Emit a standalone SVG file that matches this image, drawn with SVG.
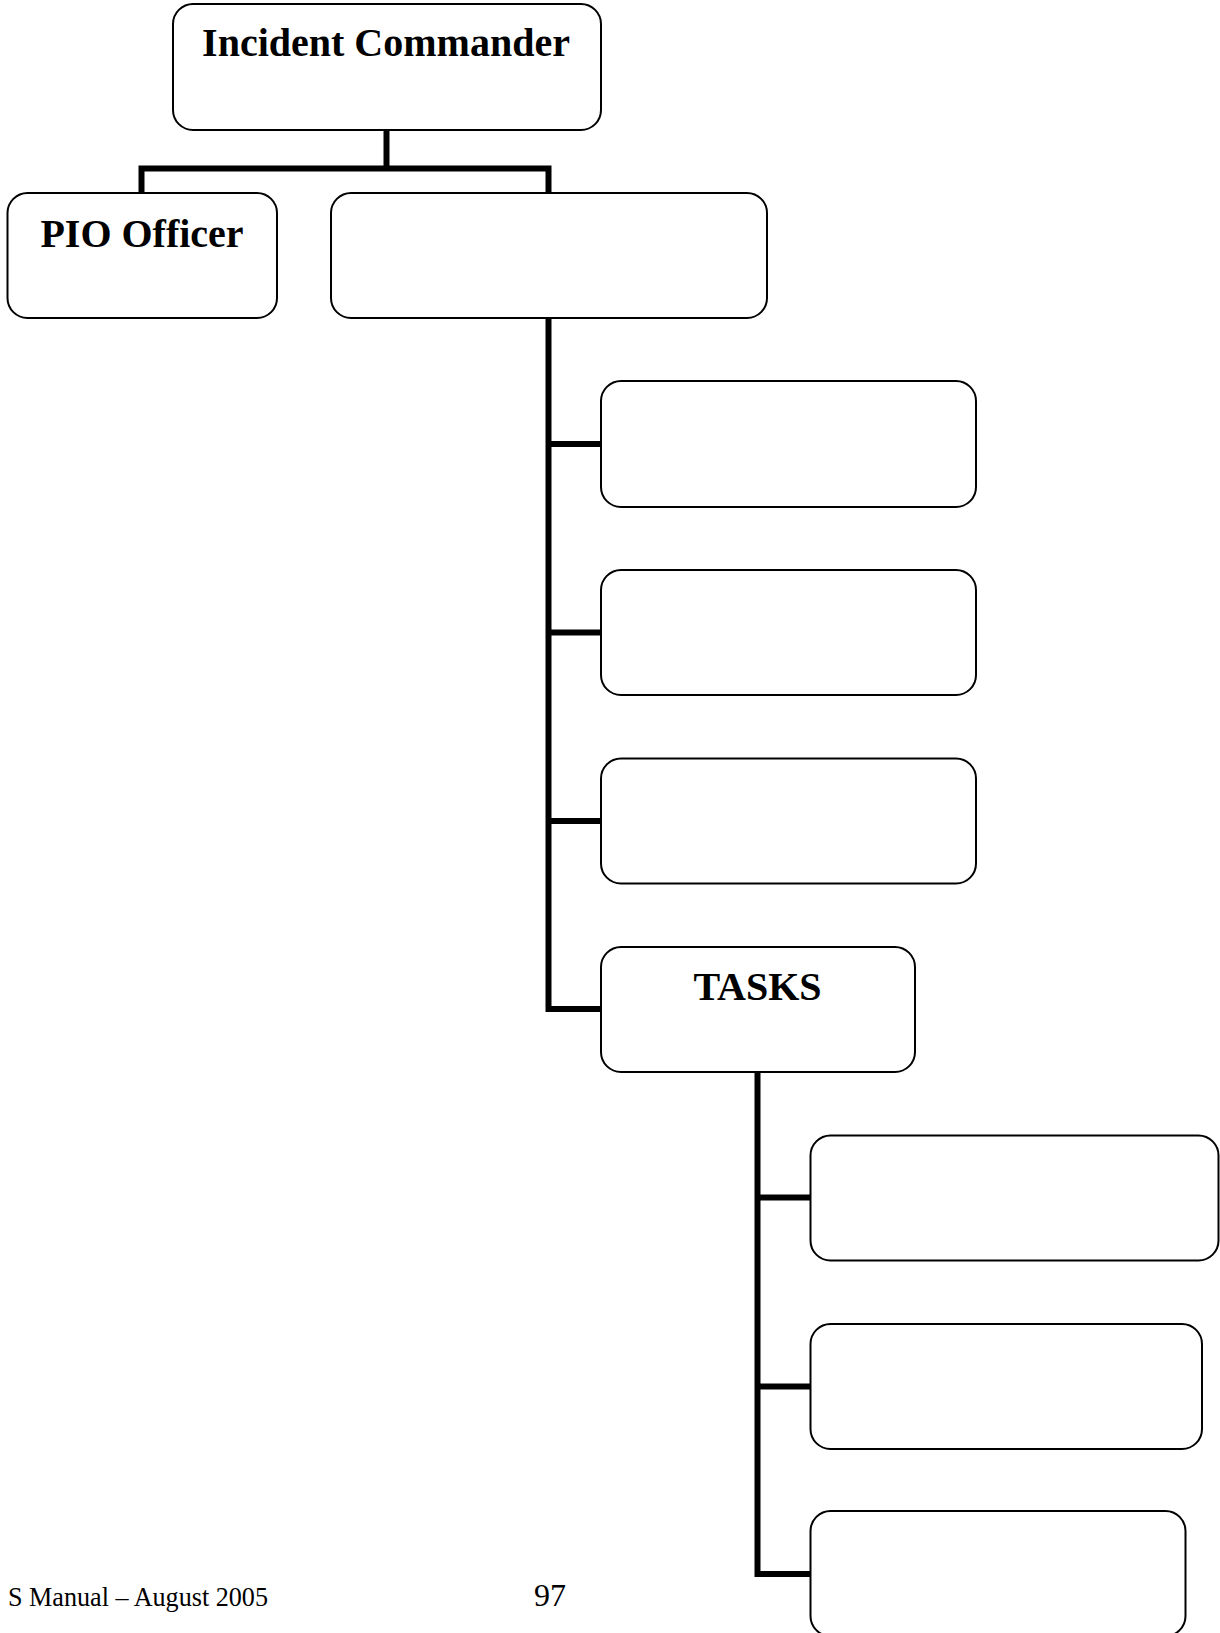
<svg xmlns="http://www.w3.org/2000/svg" width="1220" height="1633" viewBox="0 0 1220 1633">
  <style>
    .box { fill: #ffffff; stroke: #000000; stroke-width: 2; }
    .title { font-family: "Liberation Serif", "Times New Roman", serif; font-weight: bold; font-size: 40px; fill: #000000; text-anchor: middle; }
    .footer { font-family: "Liberation Serif", "Times New Roman", serif; font-size: 28px; fill: #000000; }
    .link { fill: none; stroke: #000000; stroke-width: 6; stroke-linejoin: miter; stroke-linecap: butt; }
  </style>
  <rect width="1220" height="1633" fill="#ffffff"/>

  <!-- organisation connectors -->
  <g id="connectors">
    <path class="link" d="M386.5 130 V168.5"/>
    <path class="link" d="M141.5 193 V168.5 H548.5 V193"/>
    <path class="link" d="M548.5 318 V1009 H601"/>
    <path class="link" d="M548.5 444 H601"/>
    <path class="link" d="M548.5 632.5 H601"/>
    <path class="link" d="M548.5 821 H601"/>
    <path class="link" d="M757.5 1072 V1574 H810.5"/>
    <path class="link" d="M757.5 1197.5 H810.5"/>
    <path class="link" d="M757.5 1386.5 H810.5"/>
  </g>

  <g id="incident-commander">
    <rect class="box" x="173" y="4" width="428" height="126" rx="20" ry="20"/>
    <text class="title" x="386" y="56">Incident Commander</text>
  </g>

  <g id="pio-officer">
    <rect class="box" x="7.5" y="193" width="269.5" height="125" rx="20" ry="20"/>
    <text class="title" x="142" y="247">PIO Officer</text>
  </g>

  <g id="section">
    <rect class="box" x="331" y="193" width="436" height="125" rx="20" ry="20"/>
  </g>

  <g id="unit-1">
    <rect class="box" x="601" y="381" width="375" height="126" rx="20" ry="20"/>
  </g>

  <g id="unit-2">
    <rect class="box" x="601" y="570" width="375" height="125" rx="20" ry="20"/>
  </g>

  <g id="unit-3">
    <rect class="box" x="601" y="758.5" width="375" height="125" rx="20" ry="20"/>
  </g>

  <g id="tasks">
    <rect class="box" x="601" y="947" width="314" height="125" rx="20" ry="20"/>
    <text class="title" x="757.5" y="1000">TASKS</text>
  </g>

  <g id="task-1">
    <rect class="box" x="810.5" y="1135.5" width="408" height="125" rx="20" ry="20"/>
  </g>

  <g id="task-2">
    <rect class="box" x="810.5" y="1324" width="391.5" height="125" rx="20" ry="20"/>
  </g>

  <g id="task-3">
    <rect class="box" x="810.5" y="1511" width="375" height="125" rx="20" ry="20"/>
  </g>

  <!-- page footer -->
  <g id="footer">
    <text class="footer" x="8" y="1606" textLength="260" lengthAdjust="spacingAndGlyphs">S Manual – August 2005</text>
    <text class="footer" x="534" y="1606" style="font-size:32px">97</text>
  </g>
</svg>
